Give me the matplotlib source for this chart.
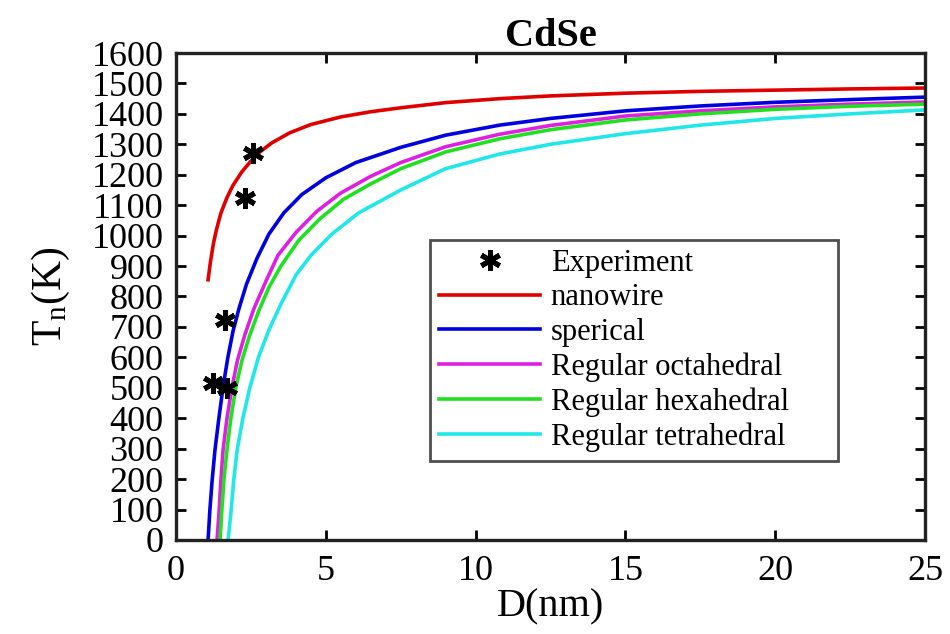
import matplotlib
matplotlib.use("Agg")
import matplotlib.pyplot as plt

# ---- data ----
exp_D = [1.24, 1.70, 1.64, 2.30, 2.57]
exp_T = [516, 500, 723, 1123, 1271]

wire_D = [1.07, 1.15, 1.25, 1.35, 1.5, 1.7, 1.9, 2.2, 2.5, 2.8, 3.2, 3.8, 4.5,
          5.5, 6.5, 7.5, 9, 10.8, 12.5, 15, 17.5, 20, 22.5, 25]
wire_T = [855, 915, 975, 1020, 1075, 1125, 1165, 1210, 1245, 1275, 1305, 1338,
          1365, 1390, 1407, 1420, 1437, 1450, 1459, 1468, 1474, 1478, 1482, 1485]

sph_D = [1.07, 1.13, 1.2, 1.3, 1.43, 1.57, 1.73, 1.9, 2.1, 2.35, 2.7, 3.1, 3.6,
         4.2, 5, 6, 7.5, 9, 10.8, 12.5, 15, 17.5, 20, 22.5, 25]
sph_T = [0, 99, 190, 296, 400, 503, 600, 685, 760, 840, 925, 1005, 1075,
         1135, 1190, 1240, 1290, 1330, 1363, 1385, 1410, 1426, 1438, 1447, 1455]

oct_D = [1.37, 1.44, 1.5, 1.57, 1.7, 1.87, 2.05, 2.3, 2.6, 3.0, 3.4, 4.0, 4.7,
         5.5, 6.5, 7.5, 9, 10.8, 12.5, 15, 17.5, 20, 22.5, 25]
oct_T = [0, 99, 200, 296, 400, 503, 590, 675, 760, 850, 935, 1010, 1080,
         1140, 1195, 1240, 1292, 1333, 1362, 1393, 1410, 1423, 1432, 1439]

hex_D = [1.47, 1.53, 1.6, 1.7, 1.83, 2.0, 2.2, 2.45, 2.75, 3.1, 3.5, 4.1, 4.8,
         5.6, 6.5, 7.5, 9, 10.8, 12.5, 15, 17.5, 20, 22.5, 25]
hex_T = [0, 99, 200, 296, 400, 503, 590, 670, 750, 830, 900, 985, 1055,
         1120, 1170, 1220, 1275, 1318, 1348, 1380, 1400, 1415, 1425, 1432]

tet_D = [1.74, 1.84, 1.93, 2.04, 2.23, 2.47, 2.75, 3.1, 3.5, 4.0, 4.5, 5.2, 6.1,
         7.5, 9, 10.8, 12.5, 15, 17.5, 20, 22.5, 25]
tet_T = [0, 99, 200, 296, 400, 503, 600, 690, 775, 870, 935, 1005, 1075,
         1150, 1220, 1268, 1300, 1335, 1363, 1385, 1400, 1413]

labels = ["Experiment", "nanowire", "sperical", "Regular octahedral",
          "Regular hexahedral", "Regular tetrahedral"]
colors = ["black", "#e00000", "#0000e0", "#e020e0", "#20e020", "#20e8e8"]

x_ticks = [0, 5, 10, 15, 20, 25]
y_ticks = list(range(0, 1700, 100))

plt.rcParams["font.family"] = ["Liberation Serif", "DejaVu Serif"]
plt.rcParams["mathtext.fontset"] = "custom"
plt.rcParams["mathtext.rm"] = "Liberation Serif"

fig = plt.figure(figsize=(9.5, 6.34), dpi=100)
ax = fig.add_axes([0.1853, 0.1483, 0.7884, 0.7681])

lw = 2.6
ax.plot(wire_D, wire_T, color=colors[1], lw=lw, label=labels[1])
ax.plot(sph_D, sph_T, color=colors[2], lw=lw, label=labels[2])
ax.plot(oct_D, oct_T, color=colors[3], lw=lw, label=labels[3])
ax.plot(hex_D, hex_T, color=colors[4], lw=lw, label=labels[4])
ax.plot(tet_D, tet_T, color=colors[5], lw=lw, label=labels[5])
ax.plot(exp_D, exp_T, linestyle="none", marker=(6, 2, 0), markersize=15,
        markeredgewidth=3.6, color=colors[0], label=labels[0], zorder=5)

ax.set_xlim(0, 25)
ax.set_ylim(0, 1600)
ax.set_xticks(x_ticks)
ax.set_yticks(y_ticks)
ax.tick_params(direction="in", length=7, width=2, top=True, right=True,
               labelsize=26)
ax.tick_params(axis="x", pad=11)
ax.tick_params(axis="y", pad=9)
for s in ax.spines.values():
    s.set_linewidth(2.4)
    s.set_color("#222222")

ax.set_xlabel("D(nm)", fontsize=29, labelpad=0)
ax.set_ylabel(r"$\mathregular{T_n}$(K)", fontsize=30, labelpad=14)
ax.set_title("CdSe", fontsize=29, fontweight="bold", pad=5)

handles, labs = ax.get_legend_handles_labels()
order = [5, 0, 1, 2, 3, 4]
leg = ax.legend([handles[i] for i in order], [labs[i] for i in order],
                loc="lower left", bbox_to_anchor=(0.339, 0.162, 0.545, 0.438),
                mode="expand", borderaxespad=0, fontsize=22,
                frameon=True, fancybox=False, edgecolor="#222222",
                handlelength=3.3, handletextpad=0.35, labelspacing=0.18,
                borderpad=0.3, numpoints=1)
leg.get_frame().set_linewidth(2.0)

fig.savefig("out.png", dpi=100, facecolor="white")
